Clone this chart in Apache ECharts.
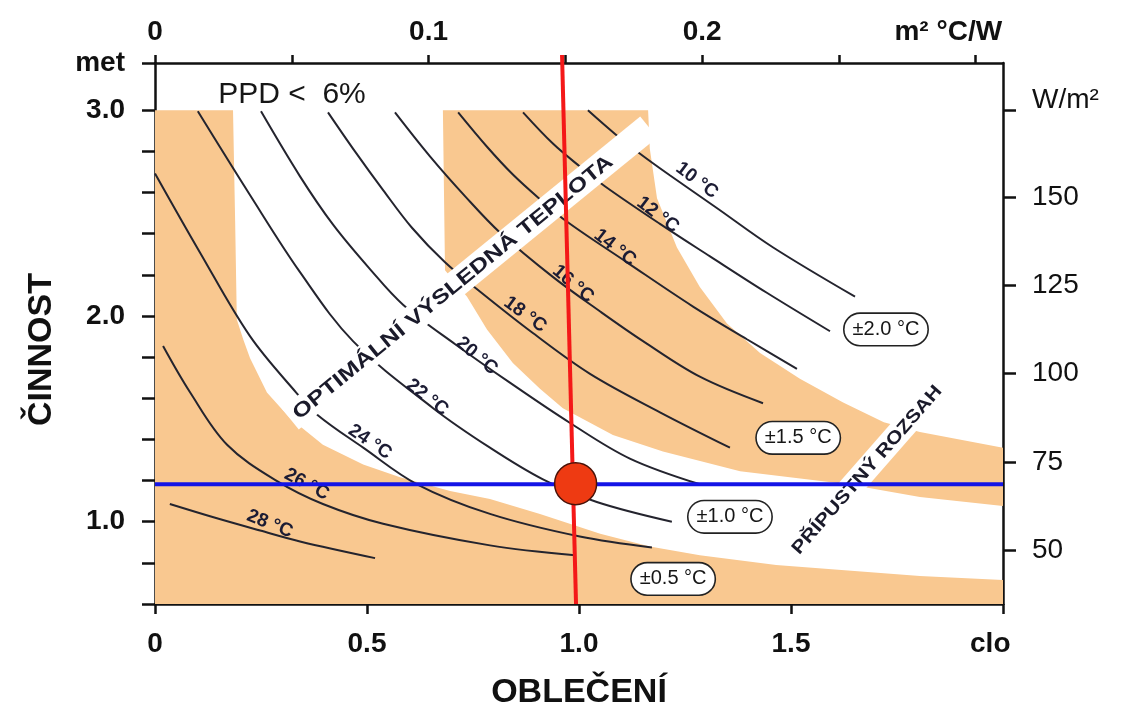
<!DOCTYPE html>
<html><head><meta charset="utf-8">
<script src="https://cdn.jsdelivr.net/npm/echarts@6/dist/echarts.min.js"></script>
<style>html,body{margin:0;padding:0;background:#fff;}#c{width:1125px;height:715px;}</style>
</head><body><div id="c"></div>
<script>
// ---------- DATA (clo, met) ----------
const iso10 = [[1.021,3.000],[1.085,2.885],[1.144,2.789],[1.215,2.683],[1.325,2.525],[1.458,2.333],[1.651,2.094]];
const iso12 = [[0.868,2.990],[0.939,2.837],[1.002,2.727],[1.061,2.631],[1.191,2.448],[1.309,2.290],[1.443,2.113],[1.592,1.926]];
const iso14 = [[0.715,2.990],[0.783,2.823],[0.844,2.688],[0.908,2.568],[0.972,2.458],[1.113,2.261],[1.269,2.046],[1.396,1.887],[1.514,1.743]];
const iso16 = [[0.566,2.990],[0.649,2.775],[0.731,2.583],[0.814,2.405],[0.939,2.189],[1.050,2.022],[1.151,1.878],[1.285,1.705],[1.434,1.576]];
const iso18 = [[0.408,2.990],[0.472,2.799],[0.538,2.612],[0.606,2.429],[0.684,2.261],[0.767,2.118],[0.892,1.916],[1.026,1.719],[1.191,1.532],[1.356,1.360]];
const iso20 = [[0.250,2.995],[0.342,2.679],[0.420,2.444],[0.507,2.228],[0.585,2.055],[0.708,1.863],[0.837,1.676],[0.979,1.480],[1.120,1.307],[1.285,1.182]];
const iso22 = [[0.101,2.995],[0.224,2.588],[0.342,2.213],[0.467,1.878],[0.656,1.552],[0.790,1.360],[0.915,1.206],[1.042,1.096],[1.219,1.000]];
const iso24 = [[0.000,2.693],[0.106,2.309],[0.224,1.902],[0.333,1.628],[0.384,1.518],[0.491,1.360],[0.618,1.182],[0.790,1.038],[1.002,0.928],[1.172,0.875]];
const iso26 = [[0.019,1.854],[0.083,1.628],[0.170,1.374],[0.288,1.197],[0.396,1.086],[0.538,0.990],[0.790,0.885],[0.991,0.837]];
const iso28 = [[0.035,1.086],[0.142,1.019],[0.248,0.957],[0.342,0.904],[0.519,0.823]];
const isoCurves = [iso10, iso12, iso14, iso16, iso18, iso20, iso22, iso24, iso26, iso28];

// tolerance zones (polygons)
const zoneLow = [[0,3.0],[0.184,3.0],[0.189,2.463],[0.193,1.983],[0.208,1.887],[0.224,1.796],[0.264,1.628],[0.318,1.504],[0.396,1.374],[0.491,1.278],[0.578,1.216],[0.696,1.149],[0.790,1.110],[0.908,1.038],[1.050,0.942],[1.167,0.880],[1.285,0.837],[1.465,0.789],[1.804,0.736],[2.0,0.717],[2.0,0.6],[0,0.6]];
const zoneMid = [[0.679,3.0],[1.163,3.0],[1.167,2.813],[1.184,2.573],[1.231,2.333],[1.285,2.141],[1.349,1.964],[1.427,1.820],[1.521,1.695],[1.623,1.580],[1.719,1.484],[1.804,1.436],[2.0,1.360],[2.0,1.077],[1.804,1.120],[1.634,1.182],[1.380,1.245],[1.198,1.341],[1.080,1.422],[0.962,1.552],[0.908,1.647],[0.844,1.772],[0.783,1.935],[0.736,2.094],[0.684,2.223]];
const zones = [zoneLow, zoneMid];

// isotherm labels
const isoLabelText = ['10 °C','12 °C','14 °C','16 °C','18 °C','20 °C','22 °C','24 °C','26 °C','28 °C'];
const isoLabelPos = [[1.278,2.659],[1.186,2.492],[1.085,2.333],[0.986,2.156],[0.873,2.007],[0.759,1.806],[0.642,1.604],[0.507,1.388],[0.358,1.182],[0.271,0.990]];
const isoLabelAngle = [-37,-37,-38,-40,-36,-40,-38,-34,-28,-22];

// tolerance labels
const tolText = ['±2.0 °C','±1.5 °C','±1.0 °C','±0.5 °C'];
const tolPos = [[1.724,1.935],[1.517,1.408],[1.356,1.024],[1.222,0.722]];

// text strips
const stripText = ['OPTIMÁLNÍ VÝSLEDNÁ TEPLOTA','PŘÍPUSTNÝ ROZSAH'];
const stripFrom = [[0.330,1.518],[1.509,0.856]];
const stripTo = [[1.073,2.765],[1.847,1.652]];

// operating point
const pointClo = 0.992, pointMet = 1.185;
const redLine = [[0.960,3.269],[0.993,0.6]];
const blueLine = [[0,1.182],[2,1.182]];

// axes
const cloTicks = [0,0.5,1,1.5,2];
const cloLabels = [0,0.5,1,1.5,1.97];
const rTicks = [0,0.05,0.1,0.15,0.2,0.25,0.3];
const rLabels = [0,0.1,0.2,0.29];
const metTicks = [0.6,0.8,1.0,1.2,1.4,1.6,1.8,2.0,2.2,2.4,2.6,2.8,3.0,3.23];
const metLabels = [1,2,3,3.23];
const wTicks = [50,75,100,125,150,174.45];
const wLabels = [50,75,100,125,150,177.4];

// ---------- STYLE ----------
const FONT = '"Liberation Sans", Arial, Helvetica, sans-serif';
const ORANGE = '#f9c890';
const INK = '#111111';
const mctx = document.createElement('canvas').getContext('2d');
function textW(t, font){ mctx.font = font; return mctx.measureText(t).width; }
const stripFont = [20, 18];
const stripPad = [[6,50],[4,6]];
const stripH = [27, 24];

const axisLine = {show:true, onZero:false, lineStyle:{color:INK, width:2.5}};
const lblBase = {color:INK, fontSize:28, fontWeight:'bold', fontFamily:FONT, showMinLabel:true, showMaxLabel:true};
const hidden = {color:'rgba(0,0,0,0)', opacity:1};

const series = [];
series.push({
  type:'custom', name:'zones', silent:true, z:1,
  data: zones.map(z => z[0]),
  renderItem: function(params, api){
    const pts = zones[params.dataIndex].map(p => api.coord(p));
    return {type:'polygon', shape:{points:pts}, style:{fill:ORANGE}};
  }
});
isoCurves.forEach((c,i) => series.push({
  type:'line', name:isoLabelText[i], data:c, smooth:0.35, symbol:'none', silent:true, z:2,
  lineStyle:{color:'#24242e', width:2}
}));
series.push({
  type:'custom', name:'strips', silent:true, z:3,
  data: stripFrom,
  renderItem: function(params, api){
    const i = params.dataIndex;
    const a = api.coord(stripFrom[i]), b = api.coord(stripTo[i]);
    const dx = b[0]-a[0], dy = b[1]-a[1];
    const len = Math.hypot(dx, dy);
    const ang = Math.atan2(-dy, dx);
    const fs = stripFont[i];
    const w = textW(stripText[i], 'bold ' + fs + 'px ' + FONT);
    const sx = len / w;
    const pl = stripPad[i][0], pr = stripPad[i][1], h = stripH[i];
    return {type:'group', x:(a[0]+b[0])/2, y:(a[1]+b[1])/2, rotation:ang, children:[
      {type:'rect', shape:{x:-len/2-pl, y:-h/2, width:len+pl+pr, height:h}, style:{fill:'#ffffff'}},
      {type:'text', scaleX:sx, style:{text:stripText[i], x:0, y:1, align:'center', verticalAlign:'middle',
        fontSize:fs, fontWeight:'bold', fontFamily:FONT, fill:'#1a1a2a'}}
    ]};
  }
});
series.push({
  type:'scatter', name:'isoLabels', silent:true, z:3, symbolSize:0.1,
  itemStyle:hidden,
  label:{show:true, position:'inside', fontSize:19, fontWeight:'bold', fontFamily:FONT, color:'#1c1c34'},
  data: isoLabelPos.map((p,i) => ({value:p, label:{formatter:isoLabelText[i], rotate:isoLabelAngle[i]}}))
});
series.push({
  type:'scatter', name:'tolerance', silent:true, z:3, symbolSize:0.1,
  itemStyle:hidden,
  label:{show:true, position:'inside', fontSize:20, fontFamily:FONT, color:'#161616',
    backgroundColor:'#ffffff', borderColor:'#222222', borderWidth:1.6, borderRadius:16, padding:[6,8,5,8]},
  data: tolPos.map((p,i) => ({value:p, label:{formatter:tolText[i]}}))
});
series.push({
  type:'scatter', name:'ppd', silent:true, z:3, symbolSize:0.1,
  itemStyle:hidden,
  label:{show:true, position:'inside', fontSize:30, fontFamily:FONT, color:'#161616', formatter:'PPD <  6%'},
  data:[[0.323,3.077]]
});
series.push({type:'line', name:'activity', data:blueLine, symbol:'none', silent:true, z:4,
  lineStyle:{color:'#1414e6', width:4}});
series.push({type:'line', name:'clothing', data:redLine, symbol:'none', silent:true, z:4, clip:false,
  lineStyle:{color:'#f41818', width:4}});
series.push({type:'scatter', name:'point', data:[[pointClo, pointMet]], symbolSize:42, silent:true, z:5,
  itemStyle:{color:'#ee3a12', borderColor:'#4a1208', borderWidth:1.5, opacity:1}});

const option = {
  animation:false,
  backgroundColor:'#ffffff',
  grid:{left:155, right:122, top:63, bottom:105, containLabel:false},
  xAxis:[
    {type:'value', position:'bottom', min:0, max:2,
     axisLine:axisLine,
     axisTick:{show:true, length:10, lineStyle:{color:INK, width:2.5}, customValues:cloTicks},
     axisLabel:Object.assign({}, lblBase, {margin:26, customValues:cloLabels,
       formatter: v => v === 0 ? '0' : (v > 1.9 ? 'clo' : v.toFixed(1))}),
     splitLine:{show:false},
     name:'OBLEČENÍ', nameLocation:'middle', nameGap:72,
     nameTextStyle:{fontSize:34, fontWeight:'bold', color:INK, fontFamily:FONT}},
    {type:'value', position:'top', min:0, max:0.31,
     axisLine:axisLine,
     axisTick:{show:true, length:8, lineStyle:{color:INK, width:2.5}, customValues:rTicks},
     axisLabel:Object.assign({}, lblBase, {margin:17, customValues:rLabels,
       formatter: v => v === 0 ? '0' : (v > 0.25 ? 'm² °C/W' : v.toFixed(1))}),
     splitLine:{show:false}}
  ],
  yAxis:[
    {type:'value', position:'left', min:0.6, max:3.23,
     axisLine:axisLine,
     axisTick:{show:true, length:13, lineStyle:{color:INK, width:2.5}, customValues:metTicks},
     axisLabel:Object.assign({}, lblBase, {margin:30, customValues:metLabels,
       formatter: v => v > 3.1 ? 'met' : v.toFixed(1)}),
     splitLine:{show:false},
     name:'ČINNOST', nameLocation:'middle', nameRotate:90, nameGap:96,
     nameTextStyle:{fontSize:34, fontWeight:'bold', color:INK, fontFamily:FONT, padding:[0,32,0,0]}},
    {type:'value', position:'right', min:0.6*58.15, max:3.23*58.15,
     axisLine:axisLine,
     axisTick:{show:true, length:13, lineStyle:{color:INK, width:2.5}, customValues:wTicks},
     axisLabel:Object.assign({}, lblBase, {fontWeight:'normal', margin:29, customValues:wLabels,
       formatter: v => v > 170 ? 'W/m²' : String(Math.round(v))}),
     splitLine:{show:false}}
  ],
  series: series
};
const chart = echarts.init(document.getElementById('c'));
chart.setOption(option);
</script></body></html>
